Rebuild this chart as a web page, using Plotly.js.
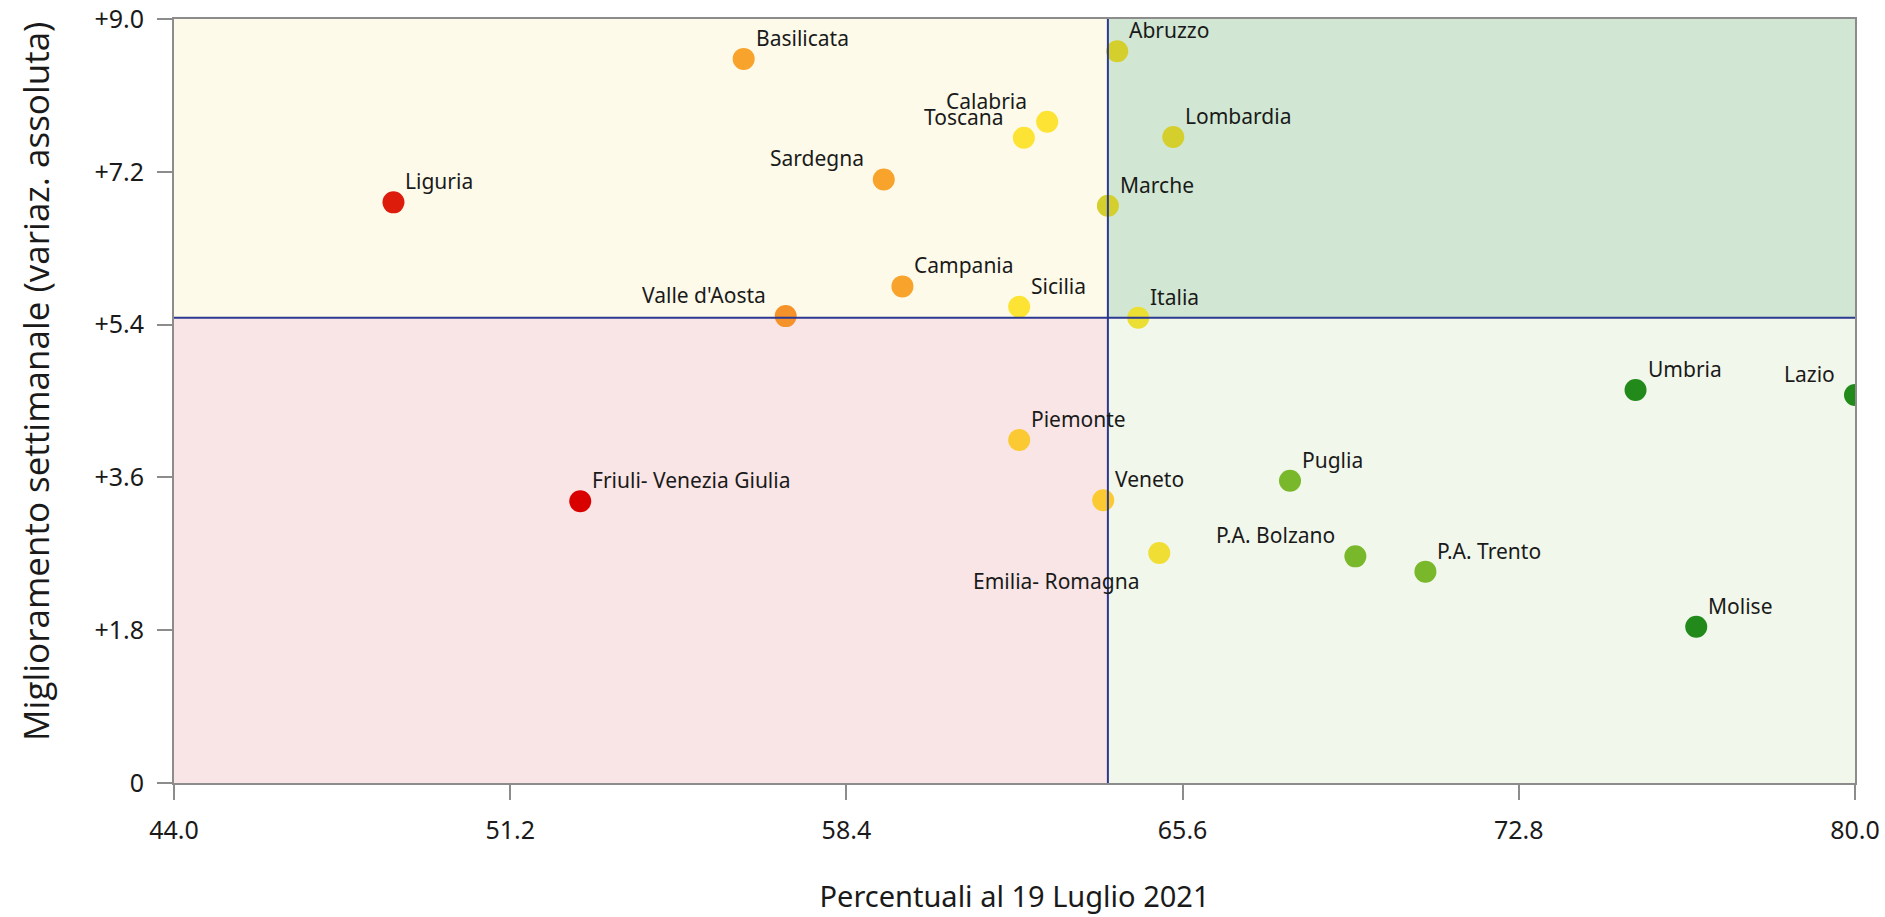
<!DOCTYPE html>
<html>
<head>
<meta charset="utf-8">
<script src="https://cdn.plot.ly/plotly-3.0.1.min.js"></script>
<style>html,body{margin:0;padding:0;background:#fff;}#chart{width:1885px;height:917px;}</style>
</head>
<body>
<div id="chart"></div>
<script>
const regions = ["Liguria","Basilicata","Abruzzo","Calabria","Toscana","Lombardia","Sardegna","Marche","Campania","Sicilia","Valle d'Aosta","Italia","Umbria","Lazio","Piemonte","Puglia","Veneto","Friuli- Venezia Giulia","P.A. Bolzano","P.A. Trento","Emilia- Romagna","Molise"];
const percentuali = [48.7,56.2,64.2,62.7,62.2,65.4,59.2,64.0,59.6,62.1,57.1,64.65,75.3,80.0,62.1,67.9,63.9,52.7,69.3,70.8,65.1,76.6];
const miglioramento = [6.84,8.53,8.62,7.79,7.60,7.61,7.11,6.80,5.85,5.61,5.50,5.48,4.63,4.57,4.04,3.56,3.33,3.32,2.67,2.49,2.71,1.84];
const pointColors = ["#dd1c0c","#f8a32c","#d5cf2d","#fde333","#fde333","#d5cf2d","#f8a32c","#d5cf2d","#f8a32c","#fde333","#f5932a","#ecdf33","#218a1a","#218a1a","#fbc932","#7ab82b","#fbc932","#d90000","#7ab82b","#7ab82b","#f1de35","#218a1a"];
const labelPositions = ["top right","top right","top right","top left","top left","top right","top left","top right","top right","top right","top left","top right","top right","top left","top right","top right","top right","top right","top left","top right","bottom left","top right"];
const xTickVals = [44.0,51.2,58.4,65.6,72.8,80.0];
const xTickText = ["44.0","51.2","58.4","65.6","72.8","80.0"];
const yTickVals = [0,1.8,3.6,5.4,7.2,9.0];
const yTickText = ["0","+1.8","+3.6","+5.4","+7.2","+9.0"];
const xThreshold = 64.0;
const yThreshold = 5.48;
const xRange = [44,80];
const yRange = [0,9];
const xTitle = 'Percentuali al 19 Luglio 2021';
const yTitle = 'Miglioramento settimanale (variaz. assoluta)';

const FONT = 'Noto Sans, sans-serif';

const trace = {
  type:'scatter', mode:'markers',
  x: percentuali, y: miglioramento, text: regions,
  marker:{size:22, color:pointColors, line:{width:0}},
  hoverinfo:'text', showlegend:false
};

const annotations = regions.map((name, i) => {
  const pos = labelPositions[i];
  const isLeft = pos.indexOf('left') >= 0;
  const isBottom = pos.indexOf('bottom') >= 0;
  return {
    xref:'x', yref:'y', x: percentuali[i], y: miglioramento[i],
    text: name, showarrow:false,
    xanchor: isLeft ? 'right' : 'left',
    yanchor: isBottom ? 'top' : 'bottom',
    xshift: isLeft ? -18 : 10,
    yshift: isBottom ? -12 : 5,
    font:{family:FONT, size:21, color:'#1a1a1a'}
  };
});
annotations.push({
  xref:'paper', yref:'paper', x:0, y:0.525, xanchor:'center', yanchor:'middle',
  xshift:-138, textangle:-90, showarrow:false, text:yTitle,
  font:{family:'Open Sans, sans-serif', size:35, color:'#1a1a1a'}
});

const shapes = [
  {type:'rect', xref:'x', yref:'y', x0:xRange[0], x1:xThreshold, y0:yThreshold, y1:yRange[1], fillcolor:'#fefaea', line:{width:0}, layer:'below'},
  {type:'rect', xref:'x', yref:'y', x0:xThreshold, x1:xRange[1], y0:yThreshold, y1:yRange[1], fillcolor:'#d1e7d3', line:{width:0}, layer:'below'},
  {type:'rect', xref:'x', yref:'y', x0:xRange[0], x1:xThreshold, y0:yRange[0], y1:yThreshold, fillcolor:'#f9e5e6', line:{width:0}, layer:'below'},
  {type:'rect', xref:'x', yref:'y', x0:xThreshold, x1:xRange[1], y0:yRange[0], y1:yThreshold, fillcolor:'#f1f7ea', line:{width:0}, layer:'below'},
  {type:'line', xref:'x', yref:'y', x0:xThreshold, x1:xThreshold, y0:yRange[0], y1:yRange[1], line:{color:'#2b3990', width:2}, layer:'above'},
  {type:'line', xref:'x', yref:'y', x0:xRange[0], x1:xRange[1], y0:yThreshold, y1:yThreshold, line:{color:'#2b3990', width:2}, layer:'above'}
];

const layout = {
  width:1885, height:917,
  margin:{l:174, r:30, t:19, b:134},
  paper_bgcolor:'#ffffff', plot_bgcolor:'#ffffff',
  shapes: shapes,
  annotations: annotations,
  font:{family:FONT, color:'#1a1a1a'},
  xaxis:{
    range:xRange, tickvals:xTickVals, ticktext:xTickText,
    showgrid:false, zeroline:false,
    showline:true, linecolor:'#8c8c8c', linewidth:2, mirror:true,
    ticks:'outside', ticklen:15, tickwidth:2, tickcolor:'#8c8c8c',
    ticklabelstandoff:9,
    tickfont:{family:FONT, size:25, color:'#1a1a1a'},
    title:{text:xTitle, font:{family:FONT, size:29, color:'#1a1a1a'}, standoff:42}
  },
  yaxis:{
    range:yRange, tickvals:yTickVals, ticktext:yTickText,
    showgrid:false, zeroline:false,
    showline:true, linecolor:'#8c8c8c', linewidth:2, mirror:true,
    ticks:'outside', ticklen:15, tickwidth:2, tickcolor:'#8c8c8c',
    ticklabelstandoff:8,
    tickfont:{family:FONT, size:25, color:'#1a1a1a'}
  }
};

Plotly.newPlot('chart', [trace], layout, {displayModeBar:false, staticPlot:true});
</script>
</body>
</html>
